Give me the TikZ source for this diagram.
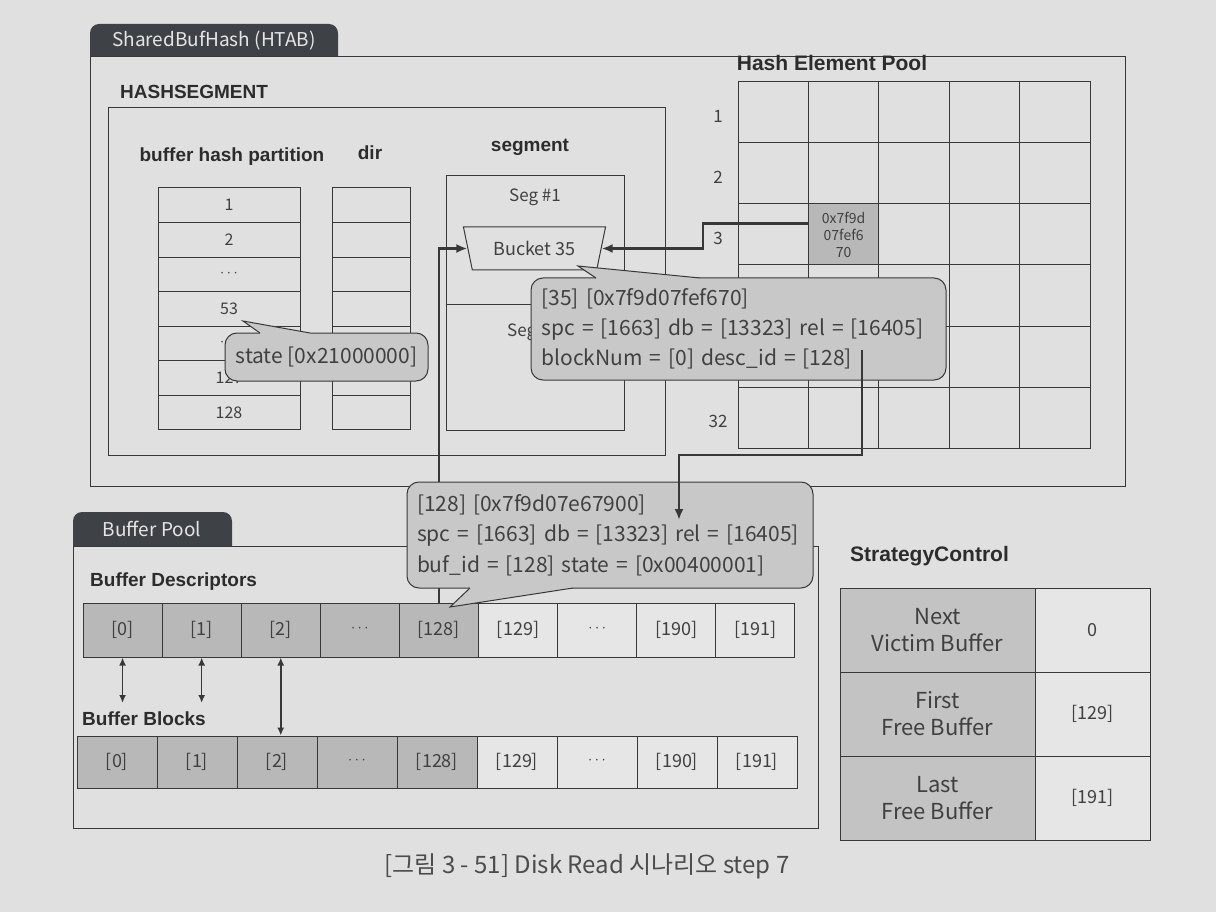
\documentclass[tikz,border=0pt]{standalone}
\usepackage{fontspec}
\setmainfont{Noto Sans CJK KR}
\newfontfamily\hdfont{Liberation Sans}
\usetikzlibrary{shapes.geometric,arrows.meta}
\definecolor{bg}{HTML}{E0E0E0}
\definecolor{ln}{HTML}{383838}
\definecolor{txt}{HTML}{404040}
\definecolor{hd}{HTML}{2C2C2C}
\definecolor{dk}{HTML}{B8B8B8}
\definecolor{lt}{HTML}{E6E6E6}
\definecolor{cf}{HTML}{C8C8C8}
\definecolor{tabc}{HTML}{3E4146}
\newcommand{\dd}{{\fontsize{12}{12}\selectfont ···}}
\begin{document}
\begin{tikzpicture}[x=1pt,y=-1pt,
  frame/.style={draw=ln,line width=1pt},
  cell/.style={draw=ln,line width=1pt,inner sep=0pt,text=txt,font=\fontsize{16}{18}\selectfont},
  hdr/.style={text=hd,font=\hdfont\bfseries\fontsize{19}{22}\selectfont,inner sep=0pt},
  ttl/.style={text=hd,font=\hdfont\bfseries\fontsize{21}{24}\selectfont,inner sep=0pt},
  tabtext/.style={text=white!90!black,font=\fontsize{19}{22}\selectfont,inner sep=0pt},
  callout/.style={draw=ln,fill=cf,rounded corners=12pt,line width=1pt,text=txt,align=left,inner sep=0pt},
  conn/.style={draw=ln,line width=2.2pt,-{Latex[length=11pt,width=9pt]}},
  dbl/.style={draw=ln,line width=1.6pt,{Latex[length=8pt,width=7pt]}-{Latex[length=8pt,width=7pt]}},
  tail/.style={draw=ln,line width=1pt,line join=miter},
]
\fill[bg] (0,0) rectangle (1216,912);
\useasboundingbox (0,0) rectangle (1216,912);

% ---------- SharedBufHash ----------
\fill[tabc,rounded corners=9pt] (90,24) rectangle (338,72);
\draw[frame,fill=bg] (90,57) rectangle (1125,486);
\node[tabtext] (tabSB) at (214,41) {SharedBufHash (HTAB)};
\node[hdr,anchor=west] (hseg) at (120,92) {HASHSEGMENT};
\draw[frame] (108,108) rectangle (665,455);

\node[hdr] (hbp) at (232,157) {buffer hash partition};
\node[hdr] (hdir) at (370,153) {dir};
\node[hdr] (hsegm) at (530,147) {segment};

\foreach \i/\lab in {1/1,2/2,3/\dd,4/53,5/\dd,6/127,7/128}{
  \node[cell,minimum width=142pt,minimum height=34.57pt] (p\i) at (229,{188+34.57*(\i-0.5)}) {\lab};
  \node[cell,minimum width=78pt,minimum height=34.57pt] (r\i) at (371,{188+34.57*(\i-0.5)}) {};
}

\node[cell,minimum width=178pt,minimum height=254pt] (seg) at (535,303) {};
\draw[ln,line width=1pt] (seg.west |- 0,304) -- (seg.east |- 0,304);
\node[text=txt,font=\fontsize{17}{20}\selectfont] (seg1) at (535,197) {Seg \#1};
\node[text=txt,font=\fontsize{17}{20}\selectfont] (seg2) at (533,332) {Seg \#2};
\node[trapezium,trapezium stretches=true,shape border rotate=180,trapezium angle=68,
      minimum width=143pt,minimum height=43pt,draw=ln,fill=bg,line width=1pt,
      text=txt,font=\fontsize{18}{20}\selectfont,inner sep=0pt] (bucket) at (534.5,248.5) {Bucket 35};

% ---------- Hash Element Pool ----------
\node[ttl] (hep) at (832,63) {Hash Element Pool};
\foreach \r in {1,...,6}{
  \foreach \c in {1,...,5}{
    \node[cell,minimum width=70.4pt,minimum height=61pt] (h\r\c) at ({738+70.4*(\c-0.5)},{82+61*(\r-0.5)}) {};
  }
}
\node[cell,fill=dk,minimum width=70.4pt,minimum height=61pt,align=center,
      font=\fontsize{14}{17}\selectfont] (hx) at (h32) {0x7f9d\\07fef6\\70};
\foreach \r/\lab in {1/1,2/2,3/3,6/32}{
  \node[text=txt,font=\fontsize{17}{20}\selectfont] (rl\r) at (718,{82+61*(\r-0.5)+4}) {\lab};
}

% ---------- Buffer Pool ----------
\fill[tabc,rounded corners=9pt] (73,512) rectangle (232,560);
\draw[frame,fill=bg] (73,546) rectangle (818,828);
\node[tabtext] (tabBP) at (152,529) {Buffer Pool};
\node[hdr,anchor=west] (hbd) at (90,582) {Buffer Descriptors};
\node[hdr,anchor=west] (hbb) at (82,719) {Buffer Blocks};

\foreach \i/\lab/\f in {0/{[0]}/dk,1/{[1]}/dk,2/{[2]}/dk,3/\dd/dk,4/{[128]}/dk,5/{[129]}/lt,6/\dd/lt,7/{[190]}/lt,8/{[191]}/lt}{
  \node[cell,fill=\f,minimum width=79.1pt,minimum height=54pt,font=\fontsize{18}{20}\selectfont] (d\i) at ({83+79.1*(\i+0.5)},630) {\lab};
  \node[cell,fill=\f,minimum width=80pt,minimum height=52pt,font=\fontsize{18}{20}\selectfont] (b\i) at ({77+80*(\i+0.5)},762) {\lab};
}
\coordinate (e0) at (d0.south |- 0,703);
\coordinate (e1) at (d1.south |- 0,703);
\draw[dbl] (d0.south) -- (e0);
\draw[dbl] (d1.south) -- (e1);
\draw[dbl] (d2.south) -- (d2.south |- b2.north);

% ---------- StrategyControl ----------
\node[ttl,anchor=west] (hsc) at (850,556) {StrategyControl};
\foreach \i/\a/\b in {1/{Next\\Victim Buffer}/0,2/{First\\Free Buffer}/{[129]},3/{Last\\Free Buffer}/{[191]}}{
  \node[cell,fill=dk!85!white,minimum width=195pt,minimum height=84pt,align=center,
        font=\fontsize{22}{27}\selectfont] (sl\i) at (937.5,{588+84*(\i-0.5)}) {\a};
  \node[cell,fill=lt,minimum width=115pt,minimum height=84pt,
        font=\fontsize{18}{20}\selectfont] (sr\i) at (1092.5,{588+84*(\i-0.5)}) {\b};
}

% ---------- connectors under callouts ----------
\draw[conn] (d4.north) |- (bucket.west);
\draw[conn] ([yshift=11pt]hx.west) -- ++(-105,0) |- (bucket.east);

% ---------- callouts ----------
\node[callout,minimum width=203pt,minimum height=48pt,align=center,
      font=\fontsize{21}{24}\selectfont] (cst) at (326.5,357) {state [0x21000000]};
\coordinate (sa) at (260,333); \coordinate (sp) at (243,321); \coordinate (sb) at (310,333);
\fill[cf] (sa) -- (sp) -- (sb) -- (310,336.5) -- (260,336.5) -- cycle;
\draw[tail] (sa) -- (sp) -- (sb);

\node[callout,minimum width=415pt,minimum height=102pt,text width=394pt,
      font=\fontsize{21}{30}\selectfont] (c35) at (738.5,329)
  {[35] [0x7f9d07fef670]\\spc = [1663] db = [13323] rel = [16405]\\blockNum = [0] desc\_id = [128]};
\coordinate (ca) at (596,278); \coordinate (cp) at (578,266); \coordinate (cb) at (700,278);
\fill[cf] (ca) -- (cp) -- (cb) -- (700,281.5) -- (596,281.5) -- cycle;
\draw[tail] (ca) -- (cp) -- (cb);

\node[callout,minimum width=406pt,minimum height=106pt,text width=386pt,
      font=\fontsize{21}{30.5}\selectfont] (c128) at (610,535)
  {[128] [0x7f9d07e67900]\\spc = [1663] db = [13323] rel = [16405]\\buf\_id = [128] state = [0x00400001]};
\coordinate (ka) at (470,588); \coordinate (kp) at (450,607); \coordinate (kb) at (573,588);
\fill[cf] (ka) -- (kp) -- (kb) -- (573,584.5) -- (470,584.5) -- cycle;
\draw[tail] (ka) -- (kp) -- (kb);

\coordinate (s35) at (862,350);
\coordinate (t128) at (679,520);
\draw[conn] (s35) -- ++(0,105) -| (t128);

% ---------- caption ----------
\node[text=black!70,font=\fontsize{24}{28}\selectfont] (cap) at (587,866) {[그림 3 - 51] Disk Read 시나리오 step 7};
\end{tikzpicture}
\end{document}
